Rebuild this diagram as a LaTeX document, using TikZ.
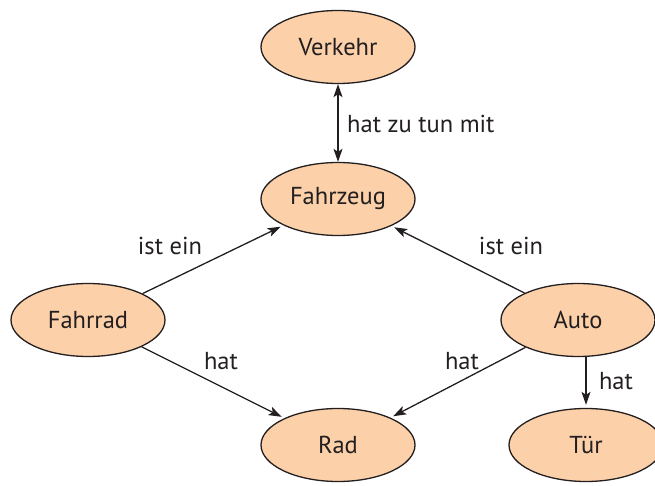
\documentclass[tikz,border=0pt]{standalone}
\usepackage{fontspec}
\setmainfont{PT Sans}
\usetikzlibrary{shapes.geometric,arrows.meta}
\definecolor{ink}{RGB}{35,31,32}
\definecolor{peach}{RGB}{252,208,168}
\begin{document}
\begin{tikzpicture}[x=1pt,y=-1pt,
  concept/.style={ellipse,draw=ink,line width=1.3pt,fill=peach,
    minimum width=154pt,minimum height=73pt,inner sep=0pt,
    font=\fontsize{24.5}{28}\selectfont,text=ink},
  rel/.style={line width=1.3pt,draw=ink,-{Stealth[length=13pt,width=9pt,inset=3pt]}},
  both/.style={line width=1.3pt,draw=ink,{Stealth[length=13pt,width=9pt,inset=3pt]}-{Stealth[length=13pt,width=9pt,inset=3pt]}},
  lbl/.style={font=\fontsize{24.5}{28}\selectfont,text=ink,inner sep=0pt}]
\useasboundingbox (0,0) rectangle (655,486);
\begin{scope}
\clip (0,0) rectangle (655,486);
\node[concept] (verkehr)  at (338,47)  {Verkehr};
\node[concept] (fahrzeug) at (338,199) {Fahrzeug};
\node[concept] (fahrrad)  at (88,320)  {Fahrrad};
\node[concept] (auto)     at (578,320) {Auto};
\node[concept] (rad)      at (338,445) {Rad};
\node[concept] (tuer)     at (586,445) {Tür};
\end{scope}
% relations between the concepts
\draw[both] (verkehr) -- (fahrzeug);
\draw[rel,shorten >=3pt] (fahrrad) -- (fahrzeug);
\draw[rel,shorten >=3pt] (fahrrad) -- (rad);
\draw[rel,shorten >=3pt] (auto) -- (fahrzeug);
\draw[rel,shorten >=3pt] (auto) -- (rad);
\coordinate (autofoot) at (tuer.north |- auto.south);
\draw[rel,shorten >=3pt] (autofoot) -- (tuer.north);
% relation labels
\node[lbl,anchor=west] (l1) at (347,124) {hat zu tun mit};
\node[lbl] (l2) at (170,246) {ist ein};
\node[lbl] (l3) at (221,361) {hat};
\node[lbl] (l4) at (511,246) {ist ein};
\node[lbl] (l5) at (462,361) {hat};
\node[lbl] (l6) at (616,381) {hat};
\end{tikzpicture}
\end{document}
